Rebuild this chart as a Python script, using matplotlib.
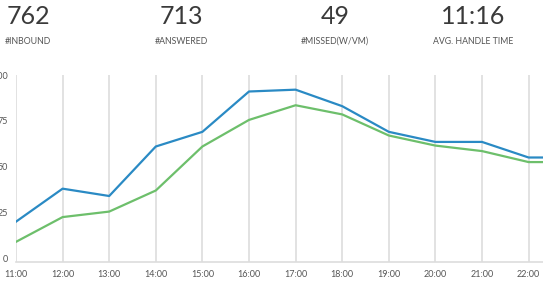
import matplotlib

matplotlib.use("Agg")

import matplotlib.pyplot as plt

# header stats
stat_values = ["762", "713", "49", "11:16"]
stat_labels = ["#INBOUND", "#ANSWERED", "#MISSED(W/VM)", "AVG. HANDLE TIME"]

# hourly series (last point sits past the right edge)
hours = ["11:00", "12:00", "13:00", "14:00", "15:00", "16:00",
         "17:00", "18:00", "19:00", "20:00", "21:00", "22:00", "23:00"]
inbound = [20, 38, 34, 61, 69, 91, 92, 83, 69, 63.5, 63.5, 55, 55]
answered = [9, 22.5, 25.5, 37, 61, 75.5, 83.5, 78.5, 67, 61.5, 58.5, 52.5, 52.5]
y_ticks = [0, 25, 50, 75, 100]

W, H = 543, 283
fig = plt.figure(figsize=(W / 100, H / 100), dpi=100)
plt.rcParams["font.family"] = ["Lato", "DejaVu Sans"]

# axes: left at x=16, top at y=75 (100), bottom at y=262
ax = fig.add_axes([16 / W, 1 - 262 / H, (W - 16) / W, (262 - 75) / H])
x = list(range(len(hours)))
ax.plot(x, inbound, color="#2a8ac4", lw=1.6, zorder=3)
ax.plot(x, answered, color="#6dbf6b", lw=1.6, zorder=3)

ax.set_xlim(0, (W - 16) / 46.6)
ax.set_ylim(-2, 100)
ax.set_xticks(x[:-1])
ax.set_xticklabels(hours[:-1])
ax.set_yticks(y_ticks)
ax.set_yticklabels([str(v) for v in y_ticks])
ax.tick_params(axis="both", length=0, labelsize=6.5, colors="#555555")
ax.tick_params(axis="y", pad=6)
ax.tick_params(axis="x", pad=6)
ax.grid(axis="x", color="#dddddd", lw=1.2)
for side in ["top", "right", "left"]:
    ax.spines[side].set_visible(False)
ax.spines["bottom"].set_color("#dddddd")
ax.spines["bottom"].set_linewidth(1.2)

centers = [28, 181, 335, 473]
for cx, val, lab in zip(centers, stat_values, stat_labels):
    fig.text(cx / W, 1 - 16 / H, val, ha="center", va="center",
             fontsize=18, color="#3a3a3a")
    fig.text(cx / W, 1 - 41 / H, lab, ha="center", va="center",
             fontsize=6.3, color="#555555")

fig.savefig("out.png", dpi=100)
